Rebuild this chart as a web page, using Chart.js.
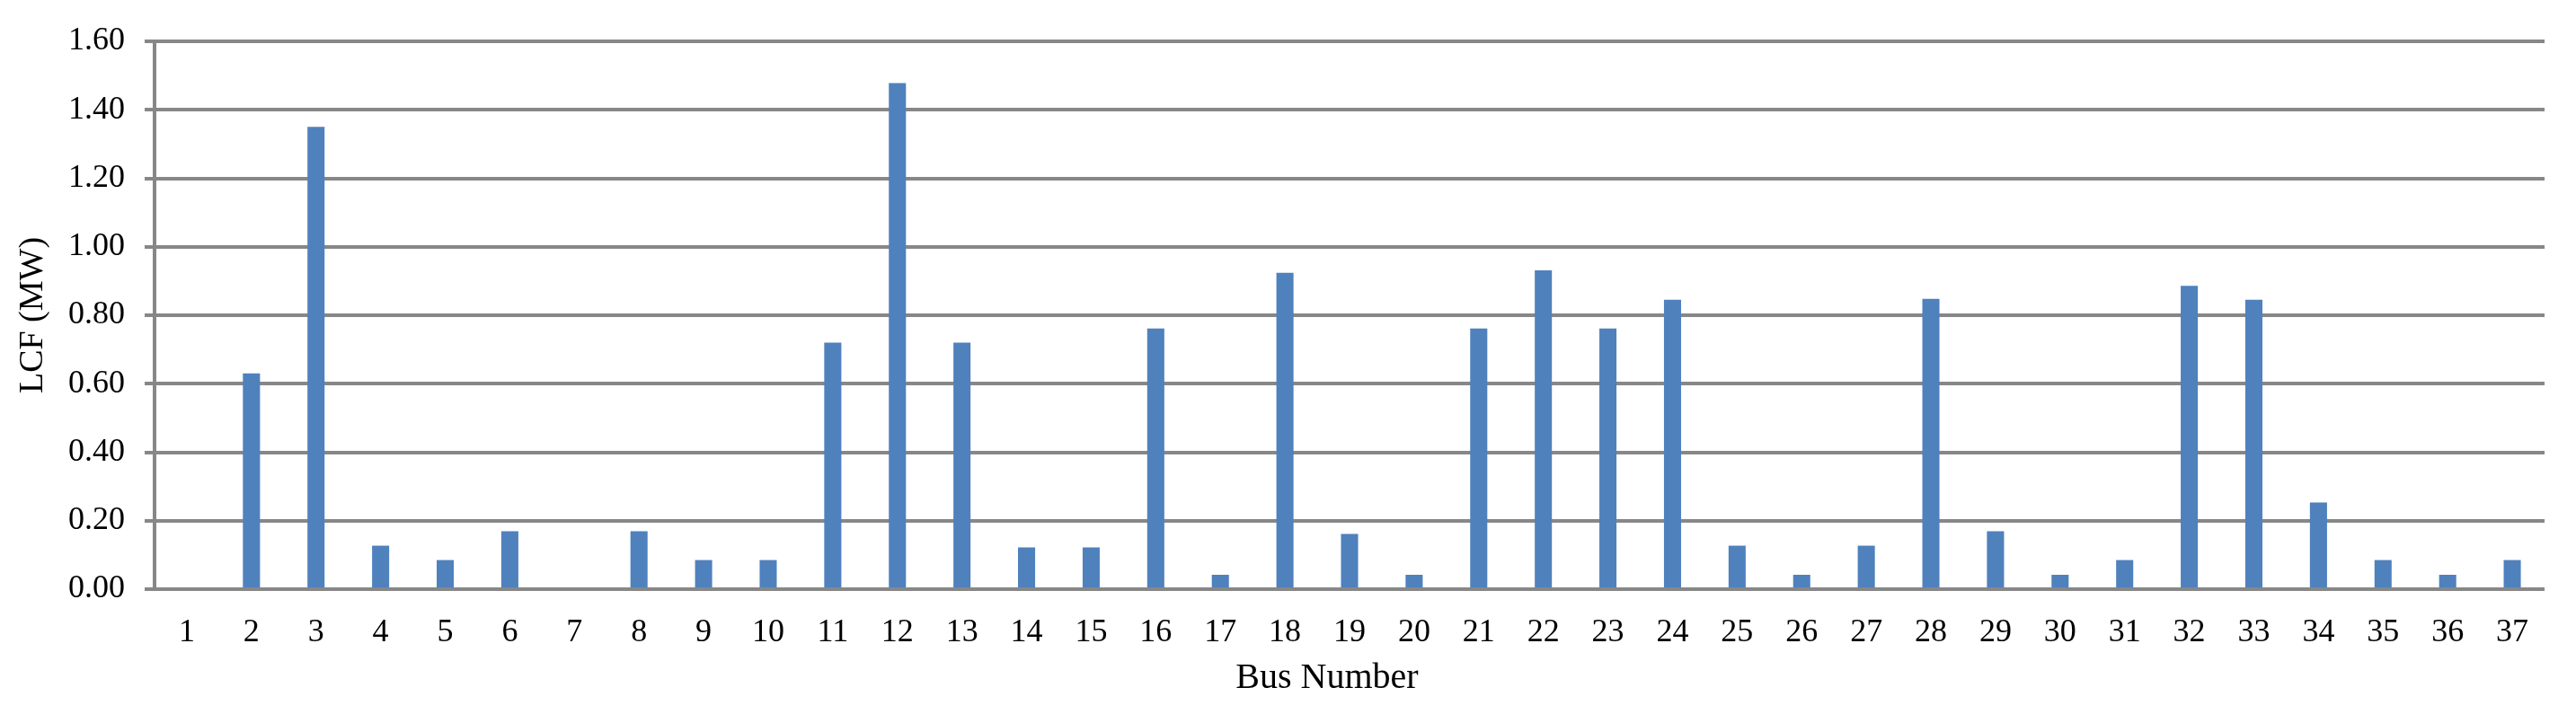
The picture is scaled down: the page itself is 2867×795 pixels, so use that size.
<!DOCTYPE html>
<html>
<head>
<meta charset="utf-8">
<script src="https://cdn.jsdelivr.net/npm/chart.js@4/dist/chart.umd.min.js"></script>
<style>
  html, body { margin: 0; padding: 0; background: #ffffff; }
  #wrap { width: 2867px; height: 795px; position: relative; }
</style>
</head>
<body>
<div id="wrap"><canvas id="c"></canvas></div>
<script>
const busNumbers = ["1","2","3","4","5","6","7","8","9","10","11","12","13","14","15","16","17","18","19","20","21","22","23","24","25","26","27","28","29","30","31","32","33","34","35","36","37"];
const lcfValues = [0, 0.63, 1.35, 0.127, 0.085, 0.169, 0, 0.169, 0.085, 0.085,
                   0.72, 1.478, 0.72, 0.122, 0.122, 0.761, 0.042, 0.924, 0.161, 0.042,
                   0.761, 0.931, 0.761, 0.845, 0.127, 0.042, 0.127, 0.848, 0.169, 0.042,
                   0.085, 0.886, 0.845, 0.253, 0.085, 0.042, 0.085];
const yTicks = [0, 0.2, 0.4, 0.6, 0.8, 1.0, 1.2, 1.4, 1.6];
const xTitle = "Bus Number";
const yTitle = "LCF (MW)";

const gridColor = "#878787";
const fontFamily = "'Liberation Serif', 'Times New Roman', serif";

new Chart(document.getElementById("c"), {
  type: "bar",
  data: {
    labels: busNumbers,
    datasets: [{
      data: lcfValues,
      backgroundColor: "#4F81BD",
      borderWidth: 0,
      barPercentage: 0.265,
      categoryPercentage: 1.0
    }]
  },
  options: {
    responsive: true,
    maintainAspectRatio: false,
    animation: false,
    layout: { padding: { top: 46, right: 35, bottom: 0, left: 0 } },
    plugins: { legend: { display: false }, tooltip: { enabled: false } },
    scales: {
      x: {
        grid: { display: false, drawTicks: false },
        border: { display: false },
        ticks: {
          color: "#000000",
          font: { family: fontFamily, size: 36 },
          padding: 27,
          maxRotation: 0,
          autoSkip: false
        },
        title: {
          display: true,
          text: xTitle + "\u00a0\u00a0\u00a0\u00a0\u00a0",
          color: "#000000",
          font: { family: fontFamily, size: 40 },
          padding: { top: 6, bottom: 16 }
        },
        afterFit: (s) => { s.height = 139; }
      },
      y: {
        min: yTicks[0],
        max: yTicks[yTicks.length - 1],
        afterBuildTicks: (s) => { s.ticks = yTicks.map(v => ({ value: v })); },
        grid: { color: gridColor, lineWidth: 4, tickLength: 11, drawTicks: true },
        border: { display: true, color: gridColor, width: 4 },
        ticks: {
          color: "#000000",
          font: { family: fontFamily, size: 36 },
          padding: 22,
          callback: (v) => Number(v).toFixed(2)
        },
        title: {
          display: true,
          text: yTitle,
          color: "#000000",
          font: { family: fontFamily, size: 38 },
          padding: { top: 14, bottom: 0 }
        },
        afterFit: (s) => { s.width = 172; }
      }
    }
  }
});
</script>
</body>
</html>
